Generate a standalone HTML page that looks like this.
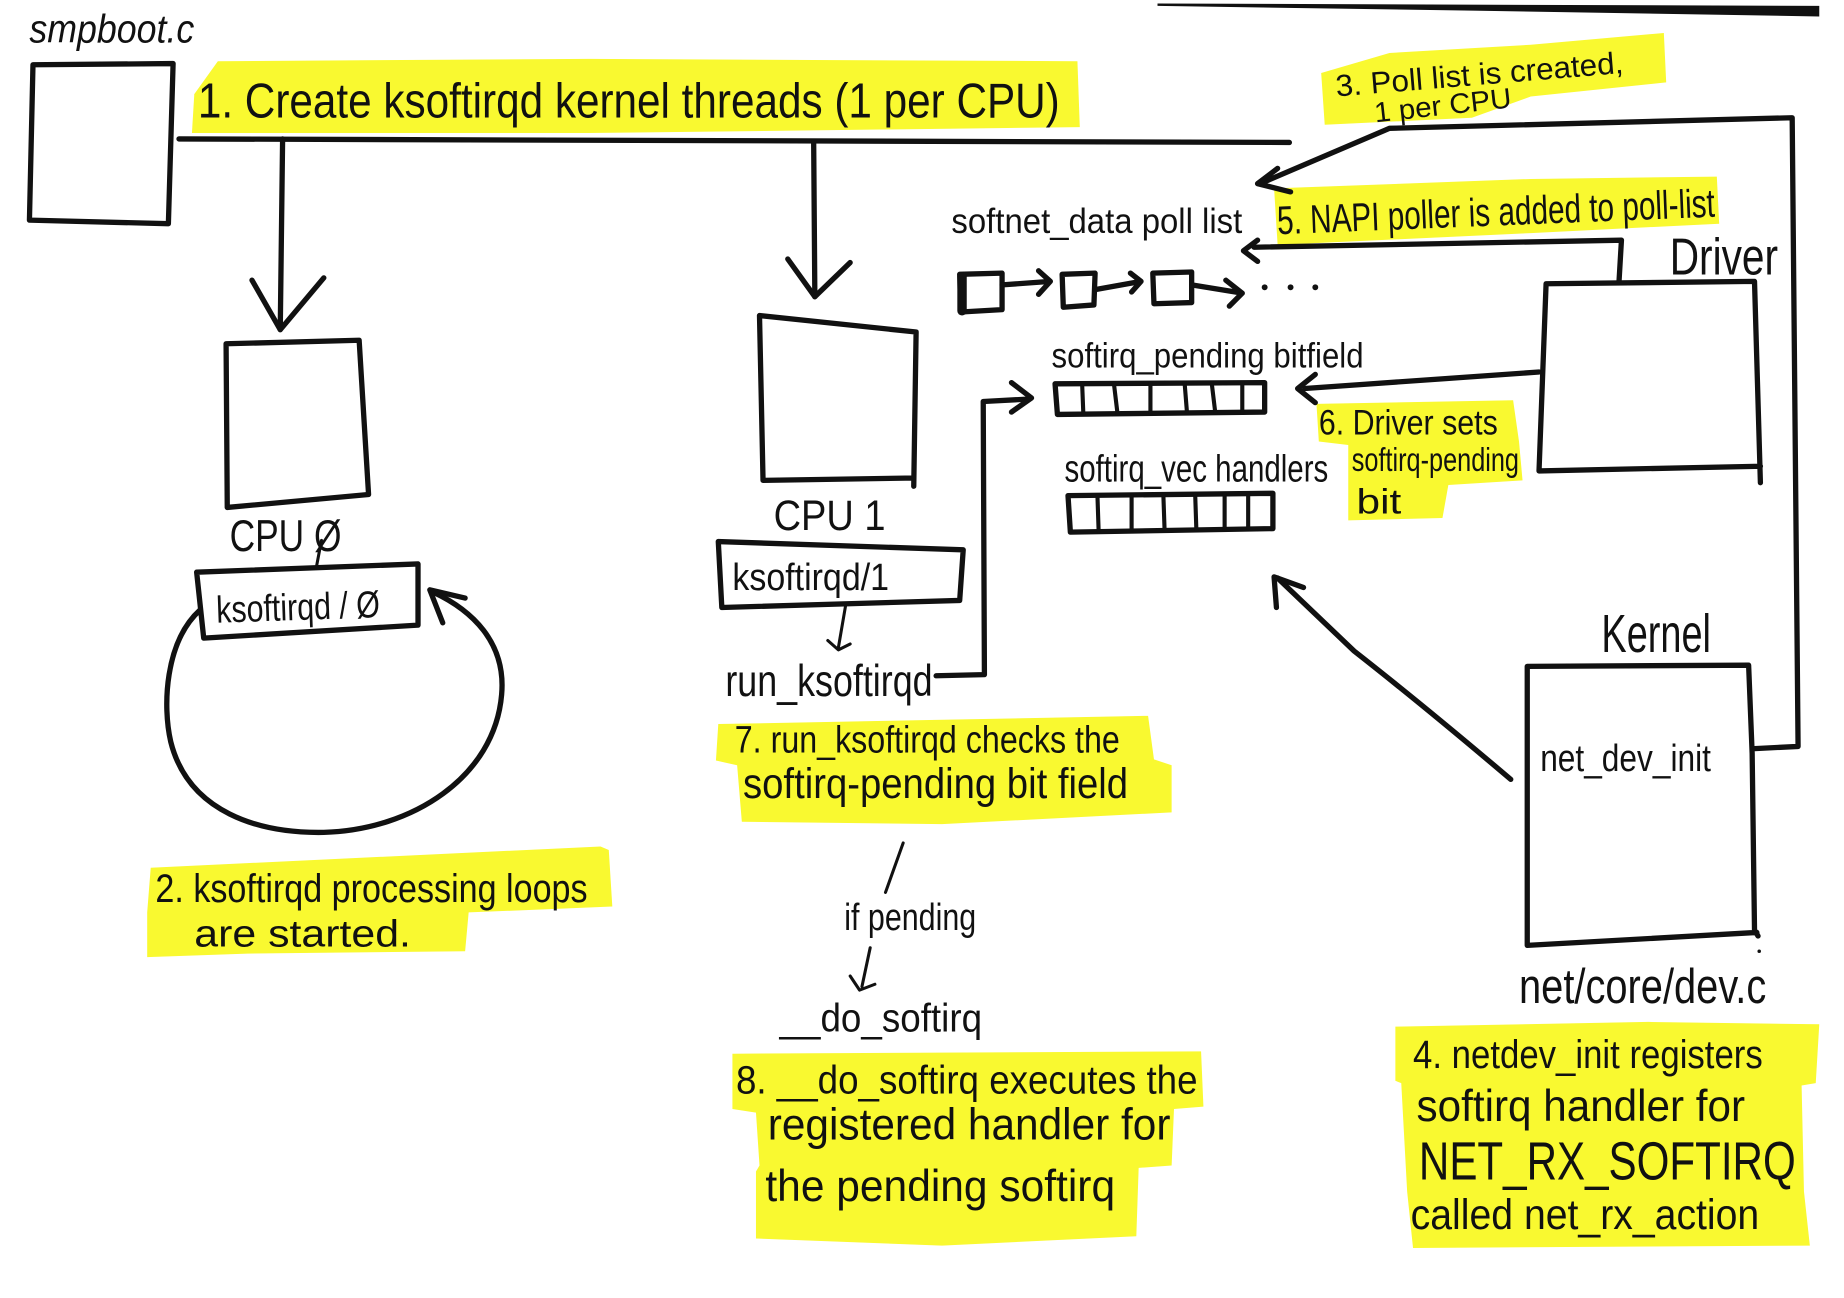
<!DOCTYPE html>
<html>
<head>
<meta charset="utf-8">
<style>
html,body{margin:0;padding:0;background:#fff;}
svg{display:block;}
text{font-family:"Liberation Sans",sans-serif;fill:#111;}
</style>
</head>
<body>
<svg width="1844" height="1298" viewBox="0 0 1566 1102.5" preserveAspectRatio="none" xmlns="http://www.w3.org/2000/svg">
<rect x="0" y="0" width="1566" height="1102.5" fill="#fff"/>

<!-- yellow highlights -->
<g fill="#f9f930">
  <polygon points="185,52 500,50 915,52 917,108 500,113 163,113 165,80"/>
  <polygon points="128,737 510,719 517,722 520,770 398,775 395,808 210,810 125,813 125,775"/>
  <polygon points="610,615 975,608 980,645 995,650 995,690 800,700 630,698 626,650 608,646"/>
  <polygon points="622,895 1020,893 1022,940 997,942 995,990 967,992 965,1050 800,1058 642,1052 642,995 645,990 642,945 622,942"/>
  <polygon points="1122,62 1180,45 1300,38 1413,28 1415,70 1300,82 1250,100 1125,106"/>
  <polygon points="1082,160 1300,152 1458,150 1460,190 1300,198 1085,208"/>
  <polygon points="1118,343 1285,340 1290,375 1293,408 1230,412 1225,440 1145,442 1145,378 1120,375"/>
  <polygon points="1185,872 1400,868 1545,870 1542,920 1530,922 1532,1012 1537,1058 1200,1060 1195,1012 1190,920 1185,918"/>
</g>

<!-- top right scan edge bar -->
<polygon points="983,3 1545,5 1545,14 1250,9 983,5" fill="#111"/>

<g fill="none" stroke="#111" stroke-width="4.5" stroke-linecap="round" stroke-linejoin="round">
  <!-- smpboot box -->
  <path d="M28,55 L147,54 L143,190 L25,187 Z"/>
  <!-- horizontal bus -->
  <path d="M152,118 L1095,121"/>
  <!-- arrows down -->
  <path d="M240,118 L238,280"/>
  <path d="M214,238 L238,280 L275,236"/>
  <path d="M691,120 L692,252"/>
  <path d="M669,220 L692,252 L722,223"/>
  <!-- CPU0 box -->
  <path d="M192,292 L305,289 L313,420 L193,431 Z"/>
  <!-- CPU1 box -->
  <path d="M645,268 L778,282 L776,413 M776,406 L648,408 L645,268"/>
  <!-- ksoftirqd/0 box -->
  <path d="M167,486 L355,479 L355,531 L173,542 Z"/>
  <!-- loop -->
  <path d="M170,518 C140,545 138,600 145,630 C160,690 220,708 275,707 C350,705 420,660 426,590 C430,545 400,518 368,503"/>
  <path d="M395,508 L365,501 L376,529"/>
  <!-- ksoftirqd/1 box -->
  <path d="M610,460 L818,467 L815,510 L613,516 Z"/>
  <!-- run_ksoftirqd connector to bitfield -->
  <path d="M795,574 L836,573 L835,341 L873,339"/>
  <path d="M859,325 L876,338 L859,350"/>
  <!-- poll list squares -->
  <path d="M815,233 L851,232 L851,263 L816,265 Z"/>
  <path d="M817,235 L817,264" stroke-width="8"/>
  <path d="M902,233 L930,232 L929,259 L903,261 Z"/>
  <path d="M979,232 L1012,231 L1012,257 L980,258 Z"/>
  <path d="M851,242 L892,239 M882,230 L892,239 L882,250"/>
  <path d="M930,246 L969,239 M960,232 L969,239 L961,248"/>
  <path d="M1012,242 L1055,249 M1041,238 L1055,249 L1044,260"/>
  <!-- bitfield -->
  <path d="M896,326 L1074,325 L1074,350 L898,352 Z"/>
  <path d="M919,326 L920,351 M946,326 L949,351 M977,326 L977,351 M1006,325 L1008,350 M1029,325 L1032,350 M1055,325 L1055,350" stroke-width="3.5"/>
  <!-- vec -->
  <path d="M907,421 L1081,419 L1081,449 L909,452 Z"/>
  <path d="M932,421 L933,451 M961,421 L961,450 M988,421 L989,450 M1015,420 L1016,450 M1040,420 L1040,450 M1060,420 L1060,449" stroke-width="3.5"/>
  <!-- Driver box -->
  <path d="M1313,241 L1490,239 L1495,410 M1495,396 L1307,400 L1313,241"/>
  <!-- Driver -> poll list -->
  <path d="M1375,238 L1377,204 L1065,210"/>
  <path d="M1068,204 L1056,213 L1068,222"/>
  <!-- Driver -> bitfield -->
  <path d="M1307,316 L1108,330"/>
  <path d="M1117,318 L1102,330 L1117,342"/>
  <!-- net_dev_init box -->
  <path d="M1297,566 L1485,565 L1488,640 L1490,790 L1493,795 M1492,792 L1297,803 L1297,566"/>
  <!-- net_dev_init -> poll list creation -->
  <path d="M1488,636 L1527,634 L1522,100 L1180,109 L1070,156"/>
  <path d="M1085,143 L1068,156 L1096,163"/>
  <!-- net_dev_init -> vec -->
  <path d="M1283,662 Q1210,600 1150,553 L1085,491"/>
  <path d="M1084,516 L1082,490 L1107,499"/>
</g>

<!-- thin handwritten strokes -->
<g fill="none" stroke="#111" stroke-width="2.6" stroke-linecap="round" stroke-linejoin="round">
  <path d="M273,459 L269,480"/>
  <path d="M718,515 L712,550 M703,544 L712,552 L722,547"/>
  <path d="M767,716 L752,758"/>
  <path d="M739,805 L732,838 M722,829 L730,841 L743,836"/>
</g>
<g fill="#111">
  <circle cx="1074" cy="244" r="2.5"/>
  <circle cx="1096" cy="244" r="2.5"/>
  <circle cx="1117" cy="244" r="2.5"/>
  <circle cx="1494" cy="808" r="1.5"/>
</g>

<!-- texts -->
<text x="25" y="36" font-size="34" textLength="140" lengthAdjust="spacingAndGlyphs" font-style="italic">smpboot.c</text>
<text x="168" y="100" font-size="42" textLength="732" lengthAdjust="spacingAndGlyphs">1. Create ksoftirqd kernel threads (1 per CPU)</text>
<text x="195" y="468" font-size="38" textLength="95" lengthAdjust="spacingAndGlyphs">CPU Ø</text>
<text x="184" y="529" font-size="32" textLength="139" lengthAdjust="spacingAndGlyphs" transform="rotate(-2 184 529)">ksoftirqd / Ø</text>
<text x="657" y="450" font-size="36" textLength="95" lengthAdjust="spacingAndGlyphs">CPU 1</text>
<text x="622" y="501" font-size="32" textLength="133" lengthAdjust="spacingAndGlyphs">ksoftirqd/1</text>
<text x="616" y="591" font-size="38" textLength="176" lengthAdjust="spacingAndGlyphs">run_ksoftirqd</text>
<text x="624" y="639" font-size="32" textLength="327" lengthAdjust="spacingAndGlyphs">7. run_ksoftirqd checks the</text>
<text x="631" y="678" font-size="36" textLength="327" lengthAdjust="spacingAndGlyphs">softirq-pending bit field</text>
<text x="717" y="790" font-size="32" textLength="112" lengthAdjust="spacingAndGlyphs">if pending</text>
<text x="662" y="876" font-size="34" textLength="172" lengthAdjust="spacingAndGlyphs">__do_softirq</text>
<text x="625" y="929" font-size="34" textLength="392" lengthAdjust="spacingAndGlyphs">8. __do_softirq executes the</text>
<text x="652" y="968" font-size="38" textLength="342" lengthAdjust="spacingAndGlyphs">registered handler for</text>
<text x="650" y="1020" font-size="38" textLength="297" lengthAdjust="spacingAndGlyphs">the pending softirq</text>
<text x="132" y="766" font-size="34" textLength="367" lengthAdjust="spacingAndGlyphs">2. ksoftirqd processing loops</text>
<text x="165" y="804" font-size="32" textLength="184" lengthAdjust="spacingAndGlyphs">are started.</text>
<text x="1135" y="82" font-size="26" textLength="245" lengthAdjust="spacingAndGlyphs" transform="rotate(-4.7 1135 82)">3. Poll list is created,</text>
<text x="1168" y="104" font-size="24" textLength="117" lengthAdjust="spacingAndGlyphs" transform="rotate(-6.3 1168 104)">1 per CPU</text>
<text x="808" y="198" font-size="30" textLength="247" lengthAdjust="spacingAndGlyphs">softnet_data poll list</text>
<text x="1085" y="199" font-size="34" textLength="372" lengthAdjust="spacingAndGlyphs" transform="rotate(-2.3 1085 199)">5. NAPI poller is added to poll-list</text>
<text x="1418" y="233" font-size="44" textLength="92" lengthAdjust="spacingAndGlyphs">Driver</text>
<text x="893" y="312" font-size="30" textLength="265" lengthAdjust="spacingAndGlyphs">softirq_pending bitfield</text>
<text x="1120" y="369" font-size="30" textLength="152" lengthAdjust="spacingAndGlyphs">6. Driver sets</text>
<text x="1148" y="400" font-size="28" textLength="142" lengthAdjust="spacingAndGlyphs">softirq-pending</text>
<text x="1152" y="436" font-size="30" textLength="38" lengthAdjust="spacingAndGlyphs">bit</text>
<text x="904" y="409" font-size="32" textLength="224" lengthAdjust="spacingAndGlyphs">softirq_vec handlers</text>
<text x="1360" y="554" font-size="46" textLength="93" lengthAdjust="spacingAndGlyphs">Kernel</text>
<text x="1308" y="655" font-size="32" textLength="145" lengthAdjust="spacingAndGlyphs">net_dev_init</text>
<text x="1290" y="852" font-size="42" textLength="210" lengthAdjust="spacingAndGlyphs">net/core/dev.c</text>
<text x="1200" y="907" font-size="34" textLength="297" lengthAdjust="spacingAndGlyphs">4. netdev_init registers</text>
<text x="1203" y="952" font-size="38" textLength="279" lengthAdjust="spacingAndGlyphs">softirq handler for</text>
<text x="1205" y="1002" font-size="46" textLength="320" lengthAdjust="spacingAndGlyphs">NET_RX_SOFTIRQ</text>
<text x="1198" y="1044" font-size="36" textLength="296" lengthAdjust="spacingAndGlyphs">called net_rx_action</text>
</svg>
</body>
</html>
